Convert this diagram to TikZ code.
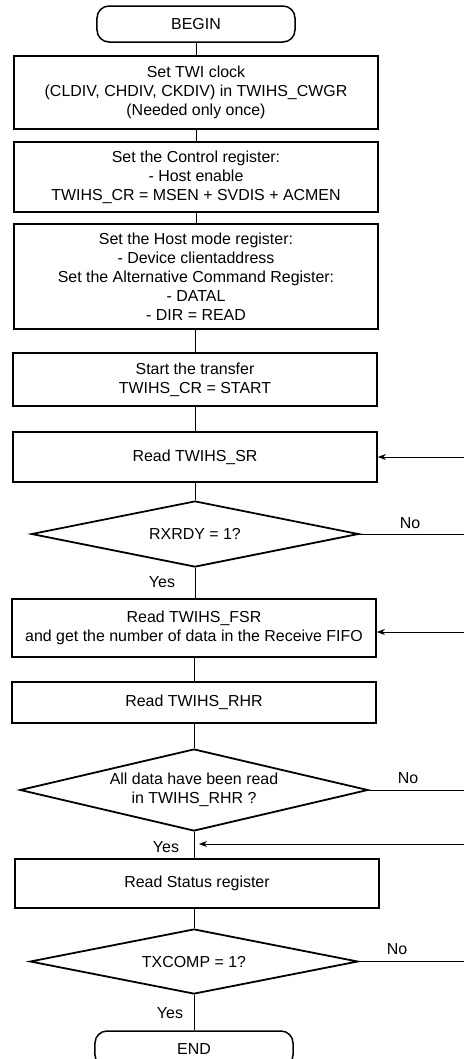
\documentclass[tikz,border=0pt]{standalone}
\usepackage{fontspec}
\setmainfont{Liberation Sans}
\usetikzlibrary{shapes.geometric,arrows.meta}
\begin{document}
\begin{tikzpicture}[x=1bp,y=-1bp,
  every node/.style={font=\fontsize{16}{19}\selectfont, align=center, inner sep=0pt},
  box/.style={draw, line width=1.8bp, minimum width=364bp},
  term/.style={draw, line width=1.5bp, rounded corners=12bp, minimum width=198bp, minimum height=36bp},
  dec/.style={draw, diamond, line width=1.8bp, aspect=5},
  conn/.style={line width=0.8bp},
  arr/.style={line width=0.8bp, -{Stealth[length=8bp,width=6bp]}},
  lbl/.style={font=\fontsize{16}{19}\selectfont}
]
\useasboundingbox (0,0) rectangle (464,1059);
\node[term] (begin) at (196,24) {BEGIN};
\node[box, minimum height=73bp] (b1) at (196,92.5) {Set TWI clock\\(CLDIV, CHDIV, CKDIV) in TWIHS\_CWGR\\(Needed only once)};
\node[box, minimum height=70bp] (b2) at (196,177) {Set the Control register:\\- Host enable\\TWIHS\_CR = MSEN + SVDIS + ACMEN};
\node[box, minimum height=105bp] (b3) at (196,276.5) {Set the Host mode register:\\- Device clientaddress\\Set the Alternative Command Register:\\- DATAL\\- DIR = READ};
\node[box, minimum height=53bp] (b4) at (195,379.5) {Start the transfer\\TWIHS\_CR = START};
\node[box, minimum height=50bp] (b5) at (195,457) {Read TWIHS\_SR};
\node[dec, minimum width=327bp, minimum height=66bp] (d1) at (195,534) {RXRDY = 1?};
\node[box, minimum height=58bp] (b6) at (194,628) {Read TWIHS\_FSR\\and get the number of data in the Receive FIFO};
\node[box, minimum height=41bp] (b7) at (194,702.5) {Read TWIHS\_RHR};
\node[dec, minimum width=348bp, minimum height=82bp] (d2) at (194,790) {All data have been read\\in TWIHS\_RHR ?};
\node[box, minimum height=49bp] (b8) at (197,883.5) {Read Status register};
\node[dec, minimum width=328bp, minimum height=65bp] (d3) at (194,961.5) {TXCOMP = 1?};
\node[term] (end) at (194,1049) {END};

\coordinate (r1) at (464,457);
\coordinate (n1) at (464,534);
\coordinate (r2) at (464,632);
\coordinate (n2) at (464,790);
\coordinate (r3) at (464,844);
\coordinate (j3) at (195,844);
\coordinate (n3) at (464,961.5);

\draw[conn] (begin.south) -- (begin.south |- b1.north);
\draw[conn] (b1.south) -- (b1.south |- b2.north);
\draw[conn] (b2.south) -- (b2.south |- b3.north);
\draw[conn] (b4.north) -- (b4.north |- b3.south);
\draw[conn] (b4.south) -- (b4.south |- b5.north);
\draw[conn] (b5.south) -- (d1.north);
\draw[conn] (d1.south) -- (d1.south |- b6.north);
\draw[conn] (b6.south) -- (b6.south |- b7.north);
\draw[conn] (d2.north) -- (d2.north |- b7.south);
\draw[conn] (d2.south) -- (d2.south |- b8.north);
\draw[conn] (d3.north) -- (d3.north |- b8.south);
\draw[conn] (d3.south) -- (end.north);

\draw[conn] (d1.east) -- (n1);
\draw[conn] (d2.east) -- (n2);
\draw[conn] (d3.east) -- (n3);
\draw[arr] (r1) -- (b5.east);
\draw[arr] (r2) -- (b6.east |- r2);
\draw[arr, shorten >=4bp] (r3) -- (j3);

\node[lbl] (no1) at (410,523) {No};
\node[lbl] (no2) at (408,778) {No};
\node[lbl] (no3) at (397,949) {No};
\node[lbl] (y1) at (162,582) {Yes};
\node[lbl] (y2) at (166,847) {Yes};
\node[lbl] (y3) at (170,1013) {Yes};
\end{tikzpicture}
\end{document}
